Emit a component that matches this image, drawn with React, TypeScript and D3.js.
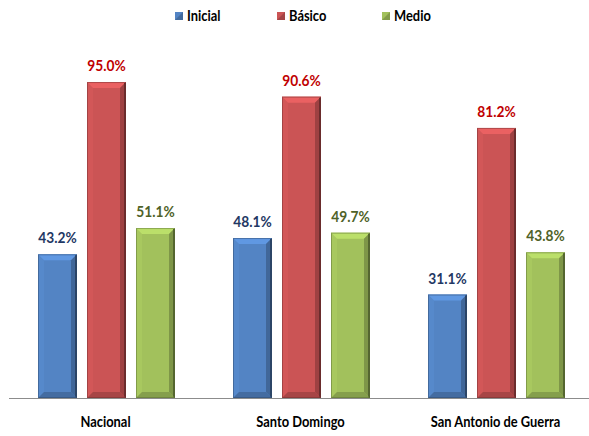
import React from 'react';
import * as d3 from 'd3';

const categories = ['Nacional', 'Santo Domingo', 'San Antonio de Guerra'];
const series = ['Inicial', 'Básico', 'Medio'];
const inicial = [43.2, 48.1, 31.1];
const basico = [95.0, 90.6, 81.2];
const medio = [51.1, 49.7, 43.8];

const barColors = ['#5384C4', '#CB5455', '#A2C15C'];
const labelColors = ['#1F3864', '#C00000', '#4F6228'];

const W = 589;
const H = 436;
const font = 'Lato, "Open Sans", sans-serif';

const Bar = ({ x, y, w, h, color }) => {
  const b = Math.min(6, h / 2);
  const base = d3.color(color);
  const light = base.brighter(0.4).formatHex();
  const lightSide = base.brighter(0.1).formatHex();
  const dark = base.darker(0.7).formatHex();
  const darker = base.darker(1.8).formatHex();
  const pts = (arr) => arr.map((p) => p.join(',')).join(' ');
  return (
    <g>
      <rect x={x} y={y} width={w} height={h} fill={color} />
      <polygon points={pts([[x, y], [x + b, y + b], [x + b, y + h - b], [x, y + h]])} fill={lightSide} />
      <polygon points={pts([[x, y], [x + w, y], [x + w - b, y + b], [x + b, y + b]])} fill={light} />
      <polygon points={pts([[x + w, y], [x + w, y + h], [x + w - b, y + h - b], [x + w - b, y + b]])} fill={dark} />
      <line x1={x + w - 1} x2={x + w - 1} y1={y + 1} y2={y + h} stroke={darker} strokeWidth={2} />
      <polygon points={pts([[x, y + h], [x + w, y + h], [x + w - b, y + h - b], [x + b, y + h - b]])} fill={dark} opacity={0.8} />
      <rect x={x + 0.5} y={y + 0.5} width={w - 1} height={h - 1} fill="none" stroke={darker} strokeOpacity={0.45} />
    </g>
  );
};

export default function App() {
  const values = [inicial, basico, medio];
  const x0 = d3.scaleBand().domain(categories).range([8, 593]).padding(0);
  const x1 = d3.scaleBand().domain(series).range([30, 167]).paddingInner(10 / 49).paddingOuter(0);
  const y = d3.scaleLinear().domain([0, 100]).range([398, 65.4]);
  const sx = 0.86;

  const legendX = [175, 277, 382];

  return (
    <svg width={W} height={H} style={{ position: 'absolute', left: 0, top: 0, background: '#fff' }}>
      {/* legend */}
      {series.map((s, i) => (
        <g key={s}>
          <rect x={legendX[i]} y={12} width={8} height={8} fill={barColors[i]} />
          <polygon
            points={`${legendX[i]},${20} ${legendX[i] + 8},${12} ${legendX[i] + 8},${20}`}
            fill={d3.color(barColors[i]).darker(0.6).formatHex()}
          />
          <text
            transform={`translate(${legendX[i] + 12},21) scale(${sx},1)`}
            fontFamily={font}
            fontWeight="bold"
            fontSize={15}
            fill="#000"
          >
            {s}
          </text>
        </g>
      ))}

      {/* axis line */}
      <line x1={9} x2={W} y1={398.5} y2={398.5} stroke="#8c8c8c" strokeWidth={1.2} />

      {categories.map((c, ci) => (
        <g key={c}>
          {series.map((s, si) => {
            const v = values[si][ci];
            const bx = x0(c) + x1(s);
            const by = y(v);
            return (
              <g key={s}>
                <Bar x={bx} y={by} w={x1.bandwidth()} h={y(0) - by} color={barColors[si]} />
                <text
                  transform={`translate(${bx + x1.bandwidth() / 2},${by - 11}) scale(${sx},1)`}
                  textAnchor="middle"
                  fontFamily={font}
                  fontWeight="bold"
                  fontSize={16}
                  fill={labelColors[si]}
                >
                  {v.toFixed(1)}%
                </text>
              </g>
            );
          })}
          <text
            transform={`translate(${x0(c) + x0.bandwidth() / 2},427) scale(${sx},1)`}
            textAnchor="middle"
            fontFamily={font}
            fontWeight="bold"
            fontSize={15}
            fill="#000"
          >
            {c}
          </text>
        </g>
      ))}
    </svg>
  );
}
